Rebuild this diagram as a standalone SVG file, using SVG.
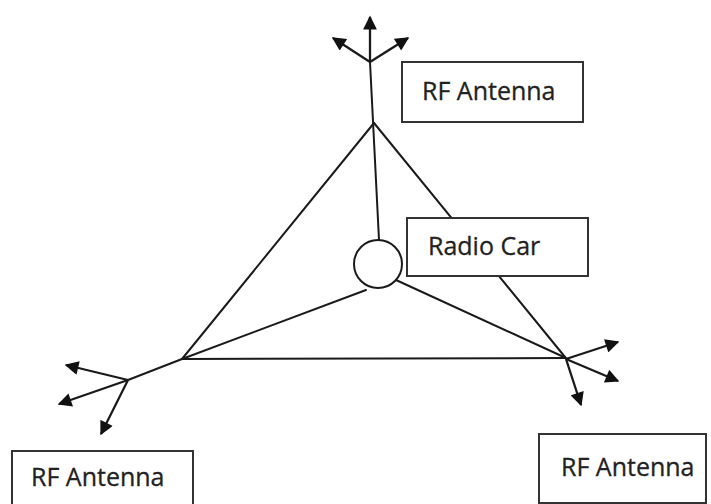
<svg xmlns="http://www.w3.org/2000/svg" width="711" height="504" viewBox="0 0 711 504">
<defs>
<marker id="ah" viewBox="0 0 10 10" refX="9" refY="5" markerWidth="6.5" markerHeight="6" orient="auto" markerUnits="strokeWidth">
<path d="M0,0 L10,5 L0,10 Z" fill="#111"/>
</marker>
</defs>
<style>
.ln{stroke:#1a1a1a;stroke-width:2;fill:none;stroke-linecap:round}
.ar{stroke:#1a1a1a;stroke-width:2.3;fill:none;marker-end:url(#ah)}
.box{fill:#fff;stroke:#333;stroke-width:2}
.t{font-family:"Open Sans","Liberation Sans",sans-serif;font-size:25px;fill:#222;stroke:#222;stroke-width:0.3}
</style>
<rect width="711" height="504" fill="#fff"/>
<g id="connectors">
<line class="ln" x1="374" y1="123" x2="182" y2="359"/>
<line class="ln" x1="374" y1="123" x2="565" y2="357"/>
<line class="ln" x1="182" y1="359" x2="566" y2="358"/>
<line class="ln" x1="370" y1="62" x2="379" y2="240"/>
<line class="ln" x1="366" y1="290" x2="182" y2="359"/>
<line class="ln" x1="396" y1="280" x2="566" y2="358"/>
<line class="ln" x1="182" y1="359" x2="128" y2="380"/>
</g>
<g id="antenna-top">
<line class="ar" x1="370" y1="62" x2="370" y2="17"/>
<line class="ar" x1="370" y1="62" x2="333" y2="38"/>
<line class="ar" x1="370" y1="62" x2="408" y2="38"/>
</g>
<g id="antenna-left">
<line class="ar" x1="128" y1="380" x2="66" y2="365"/>
<line class="ar" x1="128" y1="380" x2="59" y2="404"/>
<line class="ar" x1="128" y1="380" x2="101" y2="434"/>
</g>
<g id="antenna-right">
<line class="ar" x1="566" y1="359" x2="618" y2="342"/>
<line class="ar" x1="566" y1="359" x2="618" y2="381"/>
<line class="ar" x1="566" y1="359" x2="581" y2="405"/>
</g>
<g id="radio-car-circle">
<circle cx="378" cy="264" r="24" fill="#fff" stroke="#1a1a1a" stroke-width="2"/>
</g>
<g id="label-top">
<rect class="box" x="402" y="62" width="181" height="60"/>
<text class="t" x="422" y="100">RF Antenna</text>
</g>
<g id="label-radio-car">
<rect class="box" x="407" y="218" width="181" height="58"/>
<text class="t" x="428" y="255">Radio Car</text>
</g>
<g id="label-left">
<rect class="box" x="12" y="451" width="181" height="62"/>
<text class="t" x="31" y="486">RF Antenna</text>
</g>
<g id="label-right">
<rect class="box" x="539" y="434" width="167" height="69"/>
<text class="t" x="561" y="476">RF Antenna</text>
</g>
</svg>
